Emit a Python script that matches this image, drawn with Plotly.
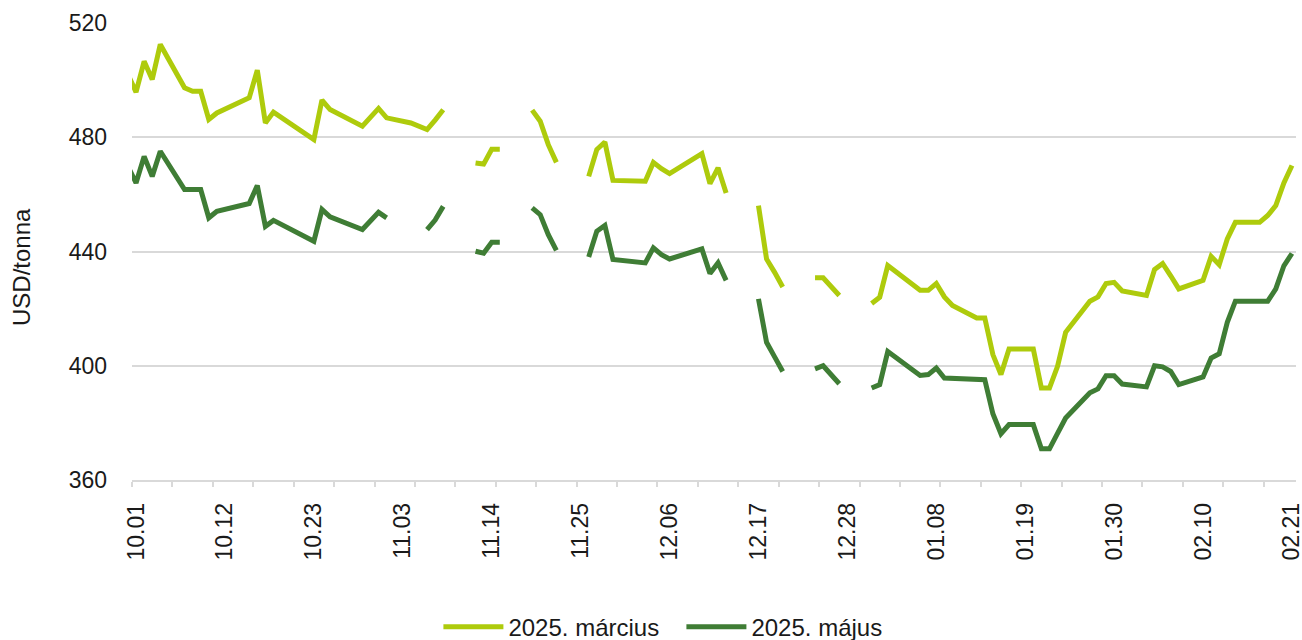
import plotly.graph_objects as go

# ---- data ----
dates = [
    "2024-09-30", "2024-10-01", "2024-10-02", "2024-10-03", "2024-10-04",
    "2024-10-07", "2024-10-08", "2024-10-09", "2024-10-10", "2024-10-11",
    "2024-10-15", "2024-10-16", "2024-10-17", "2024-10-18",
    "2024-10-23", "2024-10-24", "2024-10-25", "2024-10-29", "2024-10-31",
    "2024-11-01", "2024-11-04", "2024-11-06", "2024-11-07", "2024-11-08",
    "2024-11-11", "2024-11-12", "2024-11-13", "2024-11-14", "2024-11-15",
    "2024-11-18", "2024-11-19", "2024-11-20", "2024-11-21", "2024-11-22",
    "2024-11-25", "2024-11-26", "2024-11-27", "2024-11-28", "2024-11-29",
    "2024-12-03", "2024-12-04", "2024-12-05", "2024-12-06",
    "2024-12-10", "2024-12-11", "2024-12-12", "2024-12-13",
    "2024-12-16", "2024-12-17", "2024-12-18", "2024-12-19", "2024-12-20",
    "2024-12-23", "2024-12-24", "2024-12-25", "2024-12-27",
    "2024-12-30", "2024-12-31", "2025-01-01", "2025-01-02",
    "2025-01-06", "2025-01-07", "2025-01-08", "2025-01-09", "2025-01-10",
    "2025-01-13", "2025-01-14", "2025-01-15", "2025-01-16", "2025-01-17",
    "2025-01-20", "2025-01-21", "2025-01-22", "2025-01-23", "2025-01-24",
    "2025-01-27", "2025-01-28", "2025-01-29", "2025-01-30", "2025-01-31",
    "2025-02-03", "2025-02-04", "2025-02-05", "2025-02-06", "2025-02-07",
    "2025-02-10", "2025-02-11", "2025-02-12", "2025-02-13", "2025-02-14",
    "2025-02-17", "2025-02-18", "2025-02-19", "2025-02-20", "2025-02-21",
]

marcius = [
    502.0, 495.8, 506.6, 500.2, 512.5,
    497.3, 496.1, 496.1, 486.2, 488.5,
    493.8, 503.5, 485.0, 488.8,
    479.2, 493.0, 489.7, 483.9, 490.1,
    486.8, 485.0, 482.7, 486.0, 489.6,
    None, 471.0, 470.6, 475.8, 475.8,
    None, 489.5, 485.6, 477.4, 471.2,
    None, 466.3, 475.7, 478.3, 464.9,
    464.6, 471.2, 469.0, 467.3,
    474.3, 463.8, 469.3, 460.5,
    None, 456.1, 437.4, 432.7, 427.6,
    None, 430.8, 430.8, 424.6,
    None, 421.8, 424.0, 435.1,
    426.4, 426.4, 428.8, 424.1, 421.1,
    416.7, 416.7, 403.9, 396.9, 405.9,
    405.9, 392.2, 392.2, 399.8, 411.7,
    422.6, 424.1, 428.8, 429.2, 426.2,
    424.6, 433.7, 435.8, 431.5, 426.9,
    429.9, 438.3, 435.4, 444.4, 450.2,
    450.2, 452.6, 456.1, 464.0, 470.1,
]

majus = [
    469.8, 464.0, 473.3, 466.3, 475.1,
    461.7, 461.7, 461.7, 451.8, 454.1,
    456.8, 463.1, 448.8, 450.9,
    443.6, 454.7, 452.1, 447.7, 453.7,
    451.8, None, 447.7, 451.0, 455.8,
    None, 440.1, 439.4, 443.2, 443.2,
    None, 455.3, 452.9, 445.9, 440.4,
    None, 438.1, 447.1, 449.1, 437.2,
    436.0, 441.3, 438.9, 437.4,
    440.9, 432.3, 436.0, 429.9,
    None, 423.4, 408.2, 403.1, 398.0,
    None, 398.9, 400.0, 393.7,
    None, 392.2, 393.4, 405.0,
    396.6, 396.9, 399.2, 395.7, 395.5,
    395.2, 395.1, 383.2, 376.2, 379.4,
    379.4, 370.9, 370.9, 376.3, 381.7,
    390.5, 391.9, 396.5, 396.5, 393.6,
    392.6, 400.0, 399.6, 398.0, 393.4,
    396.1, 402.7, 404.2, 415.2, 422.6,
    422.6, 422.6, 426.9, 435.0, 439.3,
]

tick_dates = [
    "2024-10-01", "2024-10-12", "2024-10-23", "2024-11-03", "2024-11-14",
    "2024-11-25", "2024-12-06", "2024-12-17", "2024-12-28", "2025-01-08",
    "2025-01-19", "2025-01-30", "2025-02-10", "2025-02-21",
]
tick_labels = [
    "10.01", "10.12", "10.23", "11.03", "11.14", "11.25", "12.06",
    "12.17", "12.28", "01.08", "01.19", "01.30", "02.10", "02.21",
]
y_ticks = [360, 400, 440, 480, 520]

series_names = ["2025. március", "2025. május"]
series_colors = ["#AECB0C", "#3F7D35"]

FONT = "Arial, Liberation Sans, sans-serif"
GRID = "#D9D9D9"
TXT = "#1A1A1A"

fig = go.Figure()
for name, vals, col in zip(series_names, [marcius, majus], series_colors):
    fig.add_trace(go.Scatter(
        x=dates, y=vals, name=name, mode="lines",
        line=dict(color=col, width=5),
        connectgaps=False, hoverinfo="skip",
    ))

fig.update_layout(
    width=1302, height=640,
    margin=dict(l=132, r=6, t=23, b=160, autoexpand=False),
    paper_bgcolor="white", plot_bgcolor="white",
    font=dict(family=FONT, size=23, color=TXT),
    showlegend=True,
    legend=dict(
        orientation="h", x=0.472, xanchor="center", y=-0.322, yanchor="middle",
        font=dict(family=FONT, size=24, color=TXT),
        itemwidth=60, tracegroupgap=0, bgcolor="rgba(0,0,0,0)",
        entrywidthmode="pixels", entrywidth=168,
    ),
    xaxis=dict(
        type="date", automargin=False,
        range=["2024-09-30 12:00:00", "2025-02-21 12:00:00"],
        tickmode="array", tickvals=tick_dates, ticktext=tick_labels,
        tickangle=-90, ticks="", ticklabelstandoff=12,
        ticklabeloverflow="allow",
        showgrid=False, zeroline=False,
        showline=True, linecolor=GRID, linewidth=1.5,
        tickfont=dict(family=FONT, size=23, color=TXT),
        minor=dict(ticks="outside", ticklen=5, tickcolor=GRID, tickwidth=1.5,
                   tick0="2024-09-30 12:00:00", dtick=5 * 86400000, showgrid=False),
    ),
    yaxis=dict(
        range=[360, 520], tickmode="array", tickvals=y_ticks, automargin=False,
        showgrid=True, gridcolor=GRID, gridwidth=1.5,
        zeroline=False, showline=False, ticks="",
        ticklabelstandoff=24,
        tickfont=dict(family=FONT, size=23, color=TXT),
    ),
    annotations=[dict(
        text="USD/tonna", textangle=-90, showarrow=False,
        xref="paper", yref="paper", x=-0.0954, y=0.466,
        xanchor="center", yanchor="middle",
        font=dict(family=FONT, size=24, color=TXT),
    )],
)

# remove the browser's default 8px body margin so the figure fills the window
fig.write_html(
    "out.html",
    config={"displayModeBar": False},
    post_script="document.body.style.margin='0px';",
)
